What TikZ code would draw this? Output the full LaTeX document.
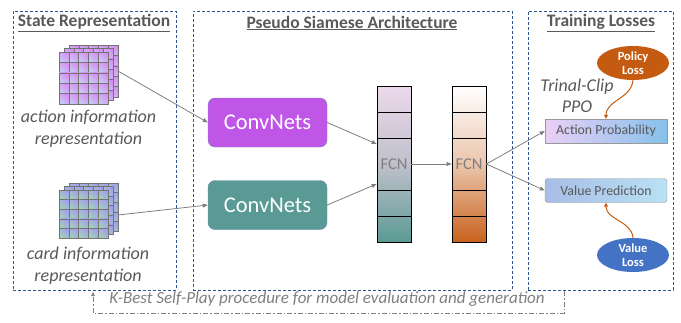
\documentclass[tikz,border=0pt]{standalone}
\usepackage{fontspec}
\setmainfont{Carlito}
\usetikzlibrary{arrows.meta,shapes.geometric}

\definecolor{panelBlue}{HTML}{2F5597}
\definecolor{textGray}{HTML}{595959}
\definecolor{arrowGray}{HTML}{7F7F7F}
\definecolor{convPurple}{HTML}{C056E8}
\definecolor{convTeal}{HTML}{5A9A94}
\definecolor{lossOrange}{HTML}{C55A11}
\definecolor{lossBlue}{HTML}{4472C4}
\definecolor{cellViolet}{HTML}{D98CF2}
\definecolor{cellLavender}{HTML}{C6CBF3}
\definecolor{cellBlue}{HTML}{A59DF2}
\definecolor{cellGreen}{HTML}{9FD2B6}
\definecolor{probLeft}{HTML}{EACFF6}
\definecolor{probRight}{HTML}{86C1EC}
\definecolor{predLeft}{HTML}{A8BDE6}
\definecolor{predRight}{HTML}{B9E1F4}

\begin{document}
\begin{tikzpicture}[x=1pt, y=-1pt,
    panel/.style={draw=panelBlue, dashed, dash pattern=on 3pt off 2pt, line width=0.6pt,
      minimum height=279pt, inner sep=0pt},
    paneltitle/.style={text=textGray, font=\fontsize{17.5}{20}\selectfont\bfseries},
    tensorlabel/.style={text=textGray, align=center, font=\fontsize{18}{22}\selectfont\itshape},
    cell/.style={draw=black!55, line width=0.5pt},
    convbox/.style={draw=panelBlue!70, rounded corners=7pt, minimum width=119pt,
      minimum height=49pt, text=white, font=\fontsize{22.5}{26}\selectfont},
    fcncol/.style={draw=black, line width=0.7pt, minimum width=34pt, minimum height=156pt,
      inner sep=0pt, text=arrowGray, font=\fontsize{16.5}{18}\selectfont},
    outbox/.style={draw=black!40, minimum width=122pt, minimum height=24pt, inner sep=0pt,
      text=textGray, font=\fontsize{13.8}{16}\selectfont},
    lossnode/.style={ellipse, minimum width=72pt, minimum height=34pt, inner sep=0pt,
      text=white, align=center, font=\fontsize{12.5}{14}\selectfont\bfseries},
    flow/.style={draw=arrowGray, line width=0.8pt, -{Triangle[length=5pt, width=4pt]}},
    lossflow/.style={draw=lossOrange, line width=1pt, -{Triangle[length=4pt, width=4pt]}},
    loopline/.style={draw=arrowGray, line width=0.9pt, dash pattern=on 5pt off 2pt on 1.5pt off 2pt,
      -{Triangle[length=4pt, width=3.5pt]}}
  ]
  \useasboundingbox (0,0) rectangle (681,322);

  % Panels:
  %   the three dashed frames with their titles
  \node[panel, minimum width=163pt] (statePanel) at (94.5,150.5) {};
  \node[panel, minimum width=319pt] (archPanel) at (352.5,150.5) {};
  \node[panel, minimum width=145pt] (lossPanel) at (600.5,150.5) {};
  \node[paneltitle] (stateTitle) at (94,23) {\underline{State Representation}};
  \node[paneltitle] (archTitle) at (352,23) {\underline{Pseudo Siamese Architecture}};
  \node[paneltitle] (lossTitle) at (601,23) {\underline{Training Losses}};

  % Action tensor:
  %   three stacked 5x5 grids, back layer first
  \foreach \l in {2,1,0} {
    \foreach \i in {0,...,4} {
      \foreach \j in {0,...,4} {
        \shade[top color=cellViolet, bottom color=cellLavender, shading angle=-45]
          (59+5*\l+9.8*\i, 52-3.5*\l+10.4*\j) rectangle ++(9.8,10.4);
        \draw[cell] (59+5*\l+9.8*\i, 52-3.5*\l+10.4*\j) rectangle ++(9.8,10.4);
      }
    }
  }
  \coordinate (actionTensor) at (118,71);
  \node[tensorlabel] (actionLabel) at (88.5,129) {action information\\representation};

  % Card tensor:
  %   same stack, teal / blue cells
  \foreach \l in {2,1,0} {
    \foreach \i in {0,...,4} {
      \foreach \j in {0,...,4} {
        \shade[top color=cellBlue, bottom color=cellGreen, shading angle=-45]
          (59+5*\l+9.8*\i, 190-3.5*\l+9.6*\j) rectangle ++(9.8,9.6);
        \draw[cell] (59+5*\l+9.8*\i, 190-3.5*\l+9.6*\j) rectangle ++(9.8,9.6);
      }
    }
  }
  \coordinate (cardTensor) at (118,215);
  \node[tensorlabel] (cardLabel) at (88,266) {card information\\representation};

  % ConvNets:
  %   one branch for each input
  \node[convbox, fill=convPurple] (actionConv) at (267.5,122.5) {ConvNets};
  \node[convbox, fill=convTeal] (cardConv) at (267.5,205) {ConvNets};

  % FCN columns:
  %   five cells each, the middle one twice as high
  \node[fcncol, top color=violet!15, bottom color=convTeal, middle color=blue!10!gray!45] (fcnA) at (394,164) {FCN};
  \node[fcncol, top color=white, bottom color=lossOrange!95, middle color=lossOrange!35] (fcnB) at (469,164) {FCN};
  \foreach \col in {fcnA,fcnB} {
    \foreach \y in {112,138,190,216} {
      \draw[line width=0.7pt] (\col.west |- 0,\y) -- (\col.east |- 0,\y);
    }
  }

  % Outputs:
  %   heads trained by the two losses
  \node[outbox, left color=probLeft, right color=probRight] (actionProb) at (606,131) {Action Probability};
  \node[outbox, rounded corners=3pt, left color=predLeft, right color=predRight] (valuePred) at (606,190.5) {Value Prediction};
  \node[lossnode, fill=lossOrange] (policyLoss) at (633,63) {Policy\\Loss};
  \node[lossnode, fill=lossBlue] (valueLoss) at (633,255) {Value\\Loss};
  \node[tensorlabel, font=\fontsize{18}{21}\selectfont\itshape] (ppoLabel) at (577,96) {Trinal-Clip\\PPO};

  % K-Best self-play loop
  \coordinate (loopStart) at (564,291);
  \coordinate (loopEnd) at (93,292);
  \node[text=arrowGray, font=\fontsize{17}{20}\selectfont\itshape] (loopLabel) at (327,299)
    {K-Best Self-Play procedure for model evaluation and generation};

  \draw[flow] (actionTensor) -- (actionConv.west);
  \draw[flow] (cardTensor) -- (cardConv.west);
  \draw[flow] (actionConv.east) -- (fcnA.west |- 0,144);
  \draw[flow] (cardConv.east) -- (fcnA.west |- 0,184);
  \draw[flow] (fcnA.east) -- (fcnB.west);
  \draw[flow] (fcnB.east) -- (actionProb.west);
  \draw[flow] (fcnB.east) -- (valuePred.west);
  \draw[lossflow] (policyLoss.south) to[out=-95, in=90] (actionProb.north);
  \draw[lossflow] (valueLoss.north) to[out=95, in=-90] (valuePred.south);
  \draw[loopline] (loopStart) -- ++(0,22) -| (loopEnd);
\end{tikzpicture}
\end{document}
